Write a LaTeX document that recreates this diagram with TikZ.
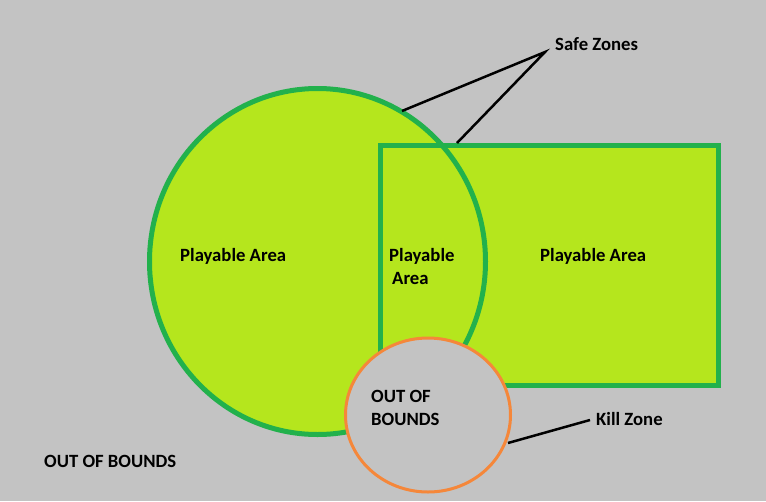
\documentclass[tikz,border=0pt]{standalone}
\usepackage{fontspec}
\setmainfont{Carlito}
\definecolor{bg}{HTML}{C3C3C3}
\definecolor{lime}{HTML}{B5E61D}
\definecolor{pgreen}{HTML}{22B14C}
\definecolor{porange}{HTML}{F5873A}
\tikzset{
  lbl/.style={anchor=base west, inner sep=0pt, font=\fontsize{18.7}{23}\selectfont\bfseries, text=black},
  zone/.style={draw=pgreen, line width=5pt},
  pointer/.style={draw=black, line width=2.5pt},
}
\begin{document}
\begin{tikzpicture}[x=1pt,y=-1pt]
\fill[bg] (0,0) rectangle (766,501);
\useasboundingbox (0,0) rectangle (766,501);
% fills
\fill[lime] (317.5,261.5) ellipse [x radius=168, y radius=173];
\fill[lime] (380.5,145.5) rectangle (718.5,385.5);
% outlines
\draw[zone] (317.5,261.5) ellipse [x radius=168, y radius=173];
\draw[zone] (380.5,145.5) rectangle (718.5,385.5);
% kill zone circle
\draw[draw=porange, fill=bg, line width=3pt] (428,415) ellipse [x radius=82.5, y radius=77];
% labels
\node[lbl] (pa1) at (180,261) {Playable Area};
\node[lbl] (pa2) at (389,261) {Playable};
\node[lbl] (pa2b) at (392,284) {Area};
\node[lbl] (pa3) at (540,261) {Playable Area};
\node[lbl] (ob1) at (371,402) {OUT OF};
\node[lbl] (ob1b) at (371,425) {BOUNDS};
\node[lbl] (ob2) at (44,467) {OUT OF BOUNDS};
\node[lbl] (safe) at (555,50) {Safe Zones};
\node[lbl] (kill) at (596,425) {Kill Zone};
% pointers
\coordinate (sapex) at (545,52);
\coordinate (scirc) at (402,111);
\coordinate (srect) at (457,143);
\coordinate (kend) at (590,420);
\coordinate (kcirc) at (508,443);
\draw[pointer] (scirc) -- (sapex) -- (srect);
\draw[pointer] (kcirc) -- (kend);
\end{tikzpicture}
\end{document}
